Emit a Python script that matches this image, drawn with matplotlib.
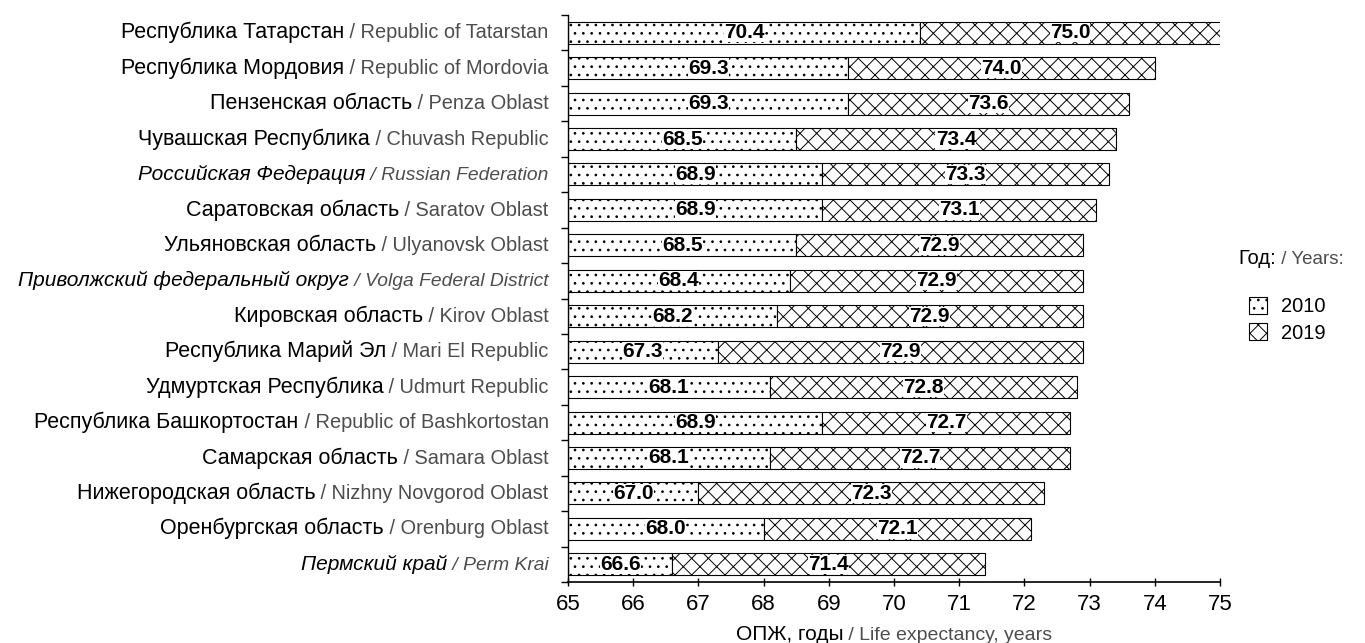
import matplotlib
matplotlib.use('Agg')
import matplotlib.pyplot as plt
from matplotlib.offsetbox import TextArea, HPacker, AnnotationBbox
from matplotlib.patches import Patch

plt.rcParams['font.family'] = ['Liberation Sans', 'DejaVu Sans']
plt.rcParams['hatch.linewidth'] = 0.7

# --- data (top to bottom) ---
names_ru = ['Республика Татарстан', 'Республика Мордовия', 'Пензенская область',
            'Чувашская Республика', 'Российская Федерация', 'Саратовская область',
            'Ульяновская область', 'Приволжский федеральный округ', 'Кировская область',
            'Республика Марий Эл', 'Удмуртская Республика', 'Республика Башкортостан',
            'Самарская область', 'Нижегородская область', 'Оренбургская область',
            'Пермский край']
names_en = ['Republic of Tatarstan', 'Republic of Mordovia', 'Penza Oblast',
            'Chuvash Republic', 'Russian Federation', 'Saratov Oblast',
            'Ulyanovsk Oblast', 'Volga Federal District', 'Kirov Oblast',
            'Mari El Republic', 'Udmurt Republic', 'Republic of Bashkortostan',
            'Samara Oblast', 'Nizhny Novgorod Oblast', 'Orenburg Oblast',
            'Perm Krai']
italic_rows = ['Российская Федерация', 'Приволжский федеральный округ', 'Пермский край']
v2010 = [70.4, 69.3, 69.3, 68.5, 68.9, 68.9, 68.5, 68.4, 68.2, 67.3, 68.1, 68.9, 68.1, 67.0, 68.0, 66.6]
v2019 = [75.0, 74.0, 73.6, 73.4, 73.3, 73.1, 72.9, 72.9, 72.9, 72.9, 72.8, 72.7, 72.7, 72.3, 72.1, 71.4]
years = ['2010', '2019']
XMIN, XMAX = 65, 75

GRAY = '#4d4d4d'
fig = plt.figure(figsize=(13.65, 6.43), dpi=100)
ax = fig.add_axes([568/1365, 1-582/643, (1220-568)/1365, (582-15)/643])

n = len(names_ru)
ypos = [n - 1 - i for i in range(n)]
h = 0.62
w10 = [a - XMIN for a in v2010]
w19 = [b - a for a, b in zip(v2010, v2019)]
ax.barh(ypos, w10, left=XMIN, height=h, color='white', edgecolor='black',
        linewidth=0.8, hatch='..')
ax.barh(ypos, w19, left=v2010, height=h, color='white', edgecolor='black',
        linewidth=0.8, hatch='xx')

for y, a, b in zip(ypos, v2010, v2019):
    for xc, v in (((XMIN + a) / 2, a), ((a + b) / 2, b)):
        ax.text(xc, y, f'{v:.1f}', ha='center', va='center', fontsize=15,
                fontweight='bold', bbox=dict(fc='white', ec='none', pad=0.1))

ax.set_xlim(XMIN, XMAX)
ax.set_ylim(-0.47, n - 0.52)
ax.set_xticks(range(XMIN, XMAX + 1))
ax.tick_params(axis='x', labelsize=16, direction='inout', length=6, width=1, pad=6)
ax.set_yticks([])
ax.set_yticks([y + 0.5 for y in range(-1, n)], minor=True)
ax.tick_params(axis='y', which='minor', length=5, width=1, labelleft=False)
for s in ('top', 'right'):
    ax.spines[s].set_visible(False)
ax.spines['left'].set_linewidth(1)
ax.spines['bottom'].set_linewidth(1.2)

# two-colour row labels
for y, ru, en in zip(ypos, names_ru, names_en):
    st = 'italic' if ru in italic_rows else 'normal'
    fs = 15 if st == 'italic' else 15.5
    box = HPacker(children=[
        TextArea(ru, textprops=dict(fontsize=fs, color='black', style=st)),
        TextArea(' / ' + en, textprops=dict(fontsize=fs - 1.1, color=GRAY, style=st))],
        align='baseline', pad=0, sep=0)
    ab = AnnotationBbox(box, (0, y), xycoords=('axes fraction', 'data'),
                        xybox=(-14, 0), boxcoords='offset points',
                        box_alignment=(1, 0.5), frameon=False, annotation_clip=False)
    ax.add_artist(ab)

# x label
xl = HPacker(children=[
    TextArea('ОПЖ, годы', textprops=dict(fontsize=15, color='black')),
    TextArea(' / Life expectancy, years', textprops=dict(fontsize=14, color=GRAY))],
    align='baseline', pad=0, sep=0)
ax.add_artist(AnnotationBbox(xl, (0.5, 0), xycoords='axes fraction', xybox=(0, -31),
                             boxcoords='offset points', box_alignment=(0.5, 1),
                             frameon=False, annotation_clip=False))

# legend title + legend
lt = HPacker(children=[
    TextArea('Год:', textprops=dict(fontsize=14.5, color='black')),
    TextArea(' / Years:', textprops=dict(fontsize=13.5, color=GRAY))],
    align='baseline', pad=0, sep=0)
fig.add_artist(AnnotationBbox(lt, (1238/1365, 1-259/643), xycoords='figure fraction',
                              box_alignment=(0, 0.5), frameon=False, annotation_clip=False))
handles = [Patch(fc='white', ec='black', lw=0.8, hatch='..'),
           Patch(fc='white', ec='black', lw=0.8, hatch='xx')]
fig.legend(handles, years, loc='upper left', bbox_to_anchor=(1235/1365, 1-283/643),
           frameon=False, fontsize=14.5, handlelength=0.9, handleheight=0.9,
           handletextpad=0.7, labelspacing=0.35, borderpad=0.2)

fig.savefig('out.png', dpi=100)
